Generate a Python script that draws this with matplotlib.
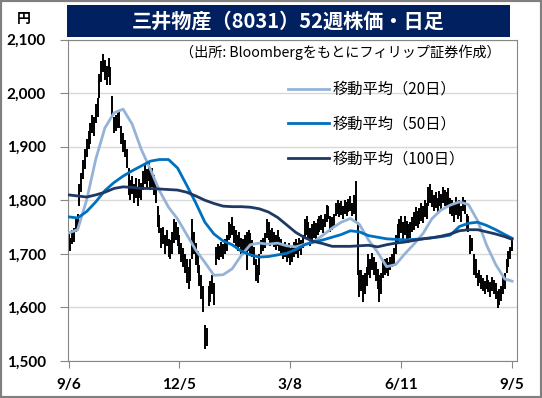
import matplotlib.pyplot as plt
from matplotlib.patches import Rectangle

# Daily high / low (yen), 2018/9/6 - 2019/9/5
lows = [
    1712, 1705, 1718, 1722, 1740, 1748, 1790, 1815, 1840, 1858,
    1880, 1895, 1905, 1925, 1920, 1945, 1955, 1990, 2020, 2040,
    2025, 2015, 2030, 2015, 1955, 1925, 1930, 1935, 1935, 1905,
    1890, 1880, 1860, 1810, 1800, 1812, 1795, 1805, 1790, 1805,
    1800, 1820, 1830, 1822, 1835, 1820, 1825, 1810, 1795, 1750,
    1738, 1710, 1718, 1700, 1715, 1695, 1690, 1700, 1720, 1725,
    1715, 1700, 1685, 1675, 1665, 1645, 1635, 1650, 1690, 1700,
    1680, 1665, 1640, 1615, 1592, 1522, 1528, 1602, 1610, 1625,
    1605, 1680, 1690, 1688, 1695, 1690, 1700, 1705, 1725, 1730,
    1735, 1720, 1715, 1705, 1712, 1700, 1698, 1705, 1670, 1705,
    1700, 1695, 1680, 1650, 1645, 1660, 1700, 1705, 1710, 1730,
    1725, 1715, 1720, 1712, 1708, 1715, 1705, 1700, 1690, 1695,
    1685, 1692, 1680, 1685, 1695, 1700, 1692, 1705, 1698, 1710,
    1730, 1735, 1725, 1715, 1720, 1730, 1725, 1735, 1740, 1745,
    1738, 1750, 1760, 1765, 1740, 1745, 1750, 1770, 1775, 1768,
    1772, 1765, 1775, 1770, 1778, 1780, 1770, 1775, 1760, 1660,
    1620, 1630, 1610, 1625, 1640, 1660, 1655, 1670, 1660, 1650,
    1635, 1610, 1625, 1655, 1660, 1665, 1658, 1670, 1675, 1680,
    1700, 1720, 1730, 1738, 1725, 1735, 1728, 1720, 1730, 1740,
    1745, 1752, 1748, 1755, 1762, 1758, 1768, 1765, 1790, 1795,
    1788, 1780, 1785, 1775, 1790, 1780, 1795, 1790, 1785, 1792,
    1775, 1770, 1760, 1772, 1765, 1770, 1760, 1780, 1775, 1745,
    1740, 1700, 1705, 1660, 1655, 1640, 1645, 1635, 1630, 1625,
    1635, 1628, 1620, 1630, 1625, 1615, 1598, 1605, 1612, 1625,
    1635, 1665, 1675, 1690, 1705,
]
highs = [
    1738, 1730, 1745, 1748, 1765, 1775, 1830, 1850, 1875, 1895,
    1915, 1930, 1945, 1960, 1955, 1980, 1990, 2035, 2060, 2073,
    2062, 2050, 2065, 2048, 1995, 1955, 1960, 1962, 1965, 1938,
    1925, 1912, 1895, 1860, 1838, 1845, 1830, 1842, 1825, 1840,
    1832, 1855, 1865, 1858, 1870, 1855, 1860, 1848, 1830, 1790,
    1772, 1748, 1750, 1735, 1745, 1728, 1725, 1740, 1765, 1760,
    1750, 1735, 1720, 1710, 1700, 1690, 1675, 1690, 1765, 1740,
    1720, 1705, 1680, 1660, 1640, 1568, 1562, 1640, 1650, 1660,
    1645, 1712, 1718, 1715, 1722, 1718, 1728, 1735, 1760, 1755,
    1768, 1752, 1745, 1735, 1740, 1730, 1728, 1735, 1740, 1745,
    1738, 1725, 1712, 1690, 1680, 1700, 1725, 1730, 1738, 1765,
    1760, 1745, 1748, 1740, 1735, 1745, 1732, 1728, 1718, 1722,
    1712, 1720, 1710, 1712, 1722, 1728, 1720, 1730, 1725, 1735,
    1765, 1770, 1760, 1748, 1755, 1762, 1758, 1765, 1770, 1772,
    1765, 1775, 1792, 1790, 1770, 1768, 1775, 1795, 1800, 1795,
    1798, 1790, 1800, 1797, 1802, 1808, 1795, 1810, 1835, 1760,
    1670, 1670, 1660, 1665, 1676, 1700, 1690, 1702, 1695, 1685,
    1672, 1660, 1665, 1688, 1690, 1692, 1685, 1695, 1700, 1710,
    1735, 1755, 1765, 1770, 1760, 1770, 1762, 1755, 1760, 1768,
    1778, 1788, 1780, 1785, 1795, 1790, 1800, 1795, 1825, 1830,
    1820, 1810, 1815, 1805, 1818, 1812, 1825, 1820, 1815, 1822,
    1805, 1800, 1795, 1806, 1798, 1800, 1790, 1806, 1800, 1775,
    1770, 1735, 1730, 1700, 1690, 1665, 1670, 1660, 1655, 1650,
    1660, 1652, 1648, 1657, 1652, 1645, 1630, 1635, 1640, 1658,
    1665, 1690, 1705, 1712, 1725,
]

# Moving averages read every 5 trading days
ma_days = list(range(0, 241, 5)) + [244]
ma20 = [
    1739, 1745, 1801, 1877, 1935, 1963, 1970, 1942, 1895, 1858,
    1818, 1787, 1765, 1736, 1707, 1684, 1660, 1661, 1672, 1697,
    1717, 1720, 1718, 1720, 1715, 1713, 1718, 1723, 1735, 1748,
    1759, 1766, 1755, 1726, 1703, 1676, 1680, 1700, 1718, 1738,
    1766, 1782, 1791, 1797, 1792, 1762, 1716, 1680, 1653, 1649,
]
ma50 = [
    1769, 1767, 1779, 1797, 1818, 1833, 1845, 1855, 1864, 1873,
    1876, 1876, 1860, 1828, 1795, 1759, 1737, 1724, 1717, 1705,
    1698, 1694, 1695, 1698, 1701, 1708, 1717, 1722, 1726, 1731,
    1736, 1743, 1741, 1734, 1731, 1728, 1727, 1726, 1727, 1728,
    1730, 1732, 1735, 1751, 1757, 1759, 1753, 1745, 1736, 1729,
]
ma100 = [
    1810, 1808, 1806, 1810, 1815, 1822, 1825, 1824, 1822, 1822,
    1821, 1820, 1819, 1815, 1808, 1800, 1794, 1789, 1788, 1788,
    1787, 1784, 1778, 1768, 1754, 1740, 1730, 1723, 1719, 1714,
    1714, 1714, 1715, 1716, 1713, 1717, 1720, 1722, 1725, 1728,
    1730, 1733, 1737, 1743, 1745, 1745, 1741, 1737, 1732, 1727,
]

tick_days = [0, 61, 122, 183, 244]
tick_labels = ['9/6', '12/5', '3/8', '6/11', '9/5']
y_ticks = [1500, 1600, 1700, 1800, 1900, 2000, 2100]

plt.rcParams['font.family'] = ['Noto Sans CJK JP', 'DejaVu Sans']

W, H = 542, 398
fig = plt.figure(figsize=(W / 100, H / 100), dpi=100)
ax = fig.add_axes([68 / W, 1 - 361 / H, (517 - 68) / W, (361 - 39.5) / H])

# price bars
ax.vlines(range(len(highs)), lows, highs, color='black', lw=1.4, zorder=2)

# moving averages
ax.plot(ma_days, ma20, color='#95B3D7', lw=2, label='移動平均（20日）', zorder=3)
ax.plot(ma_days, ma50, color='#0070C0', lw=2, label='移動平均（50日）', zorder=3)
ax.plot(ma_days, ma100, color='#1F3864', lw=2, label='移動平均（100日）', zorder=3)

ax.set_xlim(-0.3, 246.7)
ax.set_ylim(1500, 2100)
ax.set_xticks(tick_days)
ax.set_xticklabels(tick_labels, fontfamily='Lato', fontweight='bold', fontsize=11)
ax.set_yticks(y_ticks)
ax.set_yticklabels([f'{v:,}' for v in y_ticks], fontfamily='Lato', fontweight='bold', fontsize=11)
ax.yaxis.grid(True, color='#d9d9d9', lw=1)
ax.set_axisbelow(True)
for s in ax.spines.values():
    s.set_color('#868686')
ax.tick_params(axis='y', direction='out', length=6, color='#868686', pad=10)
ax.tick_params(axis='x', direction='out', length=5, color='#868686', pad=7)

leg = ax.legend(loc='upper left', bbox_to_anchor=(288 / W, 1 - 81 / H),
                bbox_transform=fig.transFigure, frameon=False, fontsize=11,
                handlelength=2.7, handletextpad=0.25, labelspacing=1.15,
                borderpad=0, borderaxespad=0)

# title box
fig.patches.append(Rectangle((67 / W, 1 - 37 / H), (510 - 67) / W, 32 / H,
                             transform=fig.transFigure, facecolor='#002060',
                             edgecolor='none'))
fig.text(288 / W, 1 - 21 / H, '三井物産（8031）52週株価・日足', color='white',
         fontsize=14.5, fontweight='bold', ha='center', va='center')
fig.text(24 / W, 1 - 19 / H, '円', fontsize=10, fontweight='bold', ha='center', va='center')
fig.text(501 / W, 1 - 52 / H, '（出所: Bloombergをもとにフィリップ証券作成）',
         fontsize=10.2, ha='right', va='center')

# outer frame
fig.patches.append(Rectangle((0, 0), 1, 1, transform=fig.transFigure, fill=False,
                             edgecolor='#808080', lw=3))

fig.savefig('out.png', dpi=100)
